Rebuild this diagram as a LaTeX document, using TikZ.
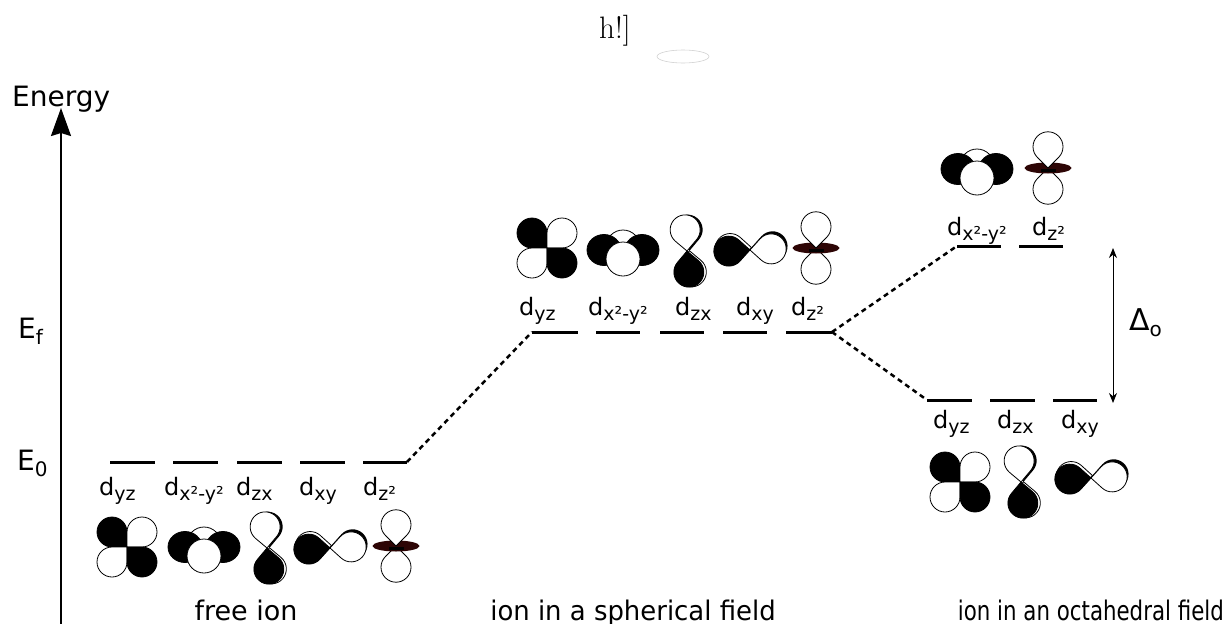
\documentclass[tikz,border=0pt]{standalone}
\usepackage{fontspec}
\newfontfamily\dejavu{DejaVu Sans}
\usetikzlibrary{arrows.meta}

\definecolor{torus}{RGB}{45,5,5}

% font size in pt (1pt of the picture = 1px of the image)
\newcommand\fsz[1]{\fontsize{#1pt}{#1pt}\selectfont}
% lowered index for the orbital labels
\newcommand\ix[1]{\raisebox{-5pt}{\fsz{19}#1}}

% one lobe: tip at the origin, round end in the (+x,+y) quadrant, r = 15
\newcommand\lobe[1]{\path[#1] (0,0) -- (15,0)
  .. controls (23.28,0) and (30,6.72) .. (30,15)
  .. controls (30,23.28) and (23.28,30) .. (15,30)
  .. controls (6.72,30) and (0,23.28) .. (0,15) -- cycle;}

% d_yz : four-leaf clover
\newcommand\dyz[1]{\begin{scope}[shift={#1}]
  \lobe{fill=black,draw=black,line width=0.8pt,rotate=180}
  \lobe{fill=white,draw=black,line width=0.8pt,rotate=90}
  \lobe{fill=white,draw=black,line width=0.8pt,rotate=270}
  \lobe{fill=black,draw=black,line width=0.8pt,rotate=0}
\end{scope}}

% d_x2-y2 : two dark lobes between two light ones
\newcommand\dxxyy[1]{\begin{scope}[shift={#1},line width=0.8pt]
  \draw[fill=white] (0,-6) circle[radius=17pt];
  \draw[fill=black] (-19,-3) ellipse[x radius=17pt,y radius=15.5pt];
  \draw[fill=black] (19,-3) ellipse[x radius=17pt,y radius=15.5pt];
  \draw[fill=white] (0,6) circle[radius=17pt];
\end{scope}}

% d_zx : vertical figure eight
\newcommand\dzx[1]{\begin{scope}[shift={#1},rotate=5]
  \lobe{fill=black,shift={(2.5,0)},rotate=135}
  \lobe{fill=white,draw=black,line width=0.8pt,rotate=135}
  \lobe{fill=white,draw=black,line width=0.8pt,shift={(2.5,0)},rotate=-45}
  \lobe{fill=black,draw=black,line width=0.8pt,rotate=-45}
\end{scope}}

% d_xy : horizontal figure eight
\newcommand\dxy[1]{\begin{scope}[shift={#1},rotate=3]
  \lobe{fill=black,shift={(1.5,-2.5)},rotate=45}
  \lobe{fill=white,draw=black,line width=0.8pt,rotate=45}
  \lobe{fill=white,draw=black,line width=0.8pt,shift={(1.5,-2.5)},rotate=225}
  \lobe{fill=black,draw=black,line width=0.8pt,rotate=225}
\end{scope}}

% d_z2 : two lobes with a torus
\newcommand\dzz[1]{\begin{scope}[shift={#1}]
  \lobe{fill=white,draw=black,line width=0.8pt,rotate=-45}
  \fill[torus] (0,0) ellipse[x radius=23.5pt,y radius=5.5pt];
  \lobe{fill=white,draw=black,line width=0.8pt,rotate=135}
  \fill[black] (-7,1) rectangle (8,4);
\end{scope}}

% an energy level between two named end points
\newcommand\level[4]{\coordinate (#1l) at (#2,#4); \coordinate (#1r) at (#3,#4);
  \draw[lvl] (#1l) -- (#1r);}

\tikzset{
  lvl/.style={line width=3pt},
  link/.style={line width=2.5pt, dash pattern=on 5pt off 4pt},
  lab/.style={inner sep=0pt, anchor=base west, font=\dejavu\fsz{24}},
  biglab/.style={inner sep=0pt, font=\dejavu\fsz{28}},
  caption/.style={inner sep=0pt, anchor=base, font=\dejavu\fsz{27}},
}

\begin{document}
\begin{tikzpicture}[x=1pt,y=-1pt]
\fill[white] (0,0) rectangle (1227,624);
\path[use as bounding box] (0,0) rectangle (1227,624);

% stray float option and empty ellipse at the top
\node[inner sep=0pt, anchor=base west, font=\fsz{31}] (floatopt) at (599,38) {h!]};
\draw[gray!35, line width=0.6pt] (683,56.5) ellipse[x radius=26pt, y radius=6.5pt];

% energy axis
\node[biglab, anchor=base west] (energy) at (12,106) {Energy};
\coordinate (axbot) at (61,624);
\coordinate (axtop) at (61,108);
\draw[line width=2pt, -{Stealth[length=28pt,width=20pt,inset=3pt]}] (axbot) -- (axtop);
\node[biglab, anchor=base west] (ef) at (18,338) {E\raisebox{-6pt}{\fsz{20}f}};
\node[biglab, anchor=base west] (ezero) at (17,470) {E\raisebox{-6pt}{\fsz{20}0}};

% free ion
\level{f1}{110}{155}{462}
\level{f2}{173}{218}{462}
\level{f3}{237}{282}{462}
\level{f4}{300}{345}{462}
\level{f5}{363}{407}{462}
\node[lab] (fyz) at (99,495) {d\ix{yz}};
\node[lab] (fxx) at (164,495) {d\ix{x²-y²}};
\node[lab] (fzx) at (236,495) {d\ix{zx}};
\node[lab] (fxy) at (299,495) {d\ix{xy}};
\node[lab] (fzz) at (363,495) {d\ix{z²}};
\dyz{(127,547)}
\dxxyy{(204,550)}
\dzx{(267,548)}
\dxy{(330,548)}
\dzz{(396,546)}
\node[caption] (cfree) at (246,620) {free ion};

% ion in a spherical field
\level{s1}{532}{578}{332}
\level{s2}{596}{640}{332}
\level{s3}{660}{704}{332}
\level{s4}{723}{767}{332}
\level{s5}{786}{832}{332}
\node[lab] (syz) at (519,315) {d\ix{yz}};
\node[lab] (sxx) at (588,315) {d\ix{x²-y²}};
\node[lab] (szx) at (675,315) {d\ix{zx}};
\node[lab] (sxy) at (736,315) {d\ix{xy}};
\node[lab] (szz) at (791,315) {d\ix{z²}};
\dyz{(547,248)}
\dxxyy{(623,253)}
\dzx{(687,251)}
\dxy{(750,250)}
\dzz{(816,248)}
\node[caption] (csph) at (633,620) {\scalebox{0.96}[1]{ion in a spherical field}};

% ion in an octahedral field: e_g above, t_2g below
\level{u1}{957}{1001}{246}
\level{u2}{1019}{1063}{246}
\node[lab] (uxx) at (947,235) {d\ix{x²-y²}};
\node[lab] (uzz) at (1032,235) {d\ix{z²}};
\dxxyy{(977,172)}
\dzz{(1048,168)}

\level{o1}{927}{972}{400}
\level{o2}{990}{1035}{400}
\level{o3}{1053}{1097}{400}
\node[lab] (oyz) at (933,428) {d\ix{yz}};
\node[lab] (ozx) at (997,428) {d\ix{zx}};
\node[lab] (oxy) at (1061,428) {d\ix{xy}};
\dyz{(960,482)}
\dzx{(1021,482)}
\dxy{(1091,478)}
\node[caption, anchor=base east] (coct) at (1224,620) {\scalebox{0.79}[1]{ion in an octahedral field}};

% splitting
\coordinate (dtop) at (1113,248);
\coordinate (dbot) at (1113,403);
\draw[line width=1pt, {Stealth[length=10pt,width=8pt]}-{Stealth[length=10pt,width=8pt]}] (dtop) -- (dbot);
\node[inner sep=0pt, anchor=base west, font=\dejavu\fsz{30}] (delta) at (1129,330) {Δ\raisebox{-6pt}{\fsz{20}o}};

% connections between the levels
\draw[link] (f5r) -- (s1l);
\draw[link] (s5r) -- (u1l);
\draw[link] (s5r) -- (o1l);
\end{tikzpicture}
\end{document}
